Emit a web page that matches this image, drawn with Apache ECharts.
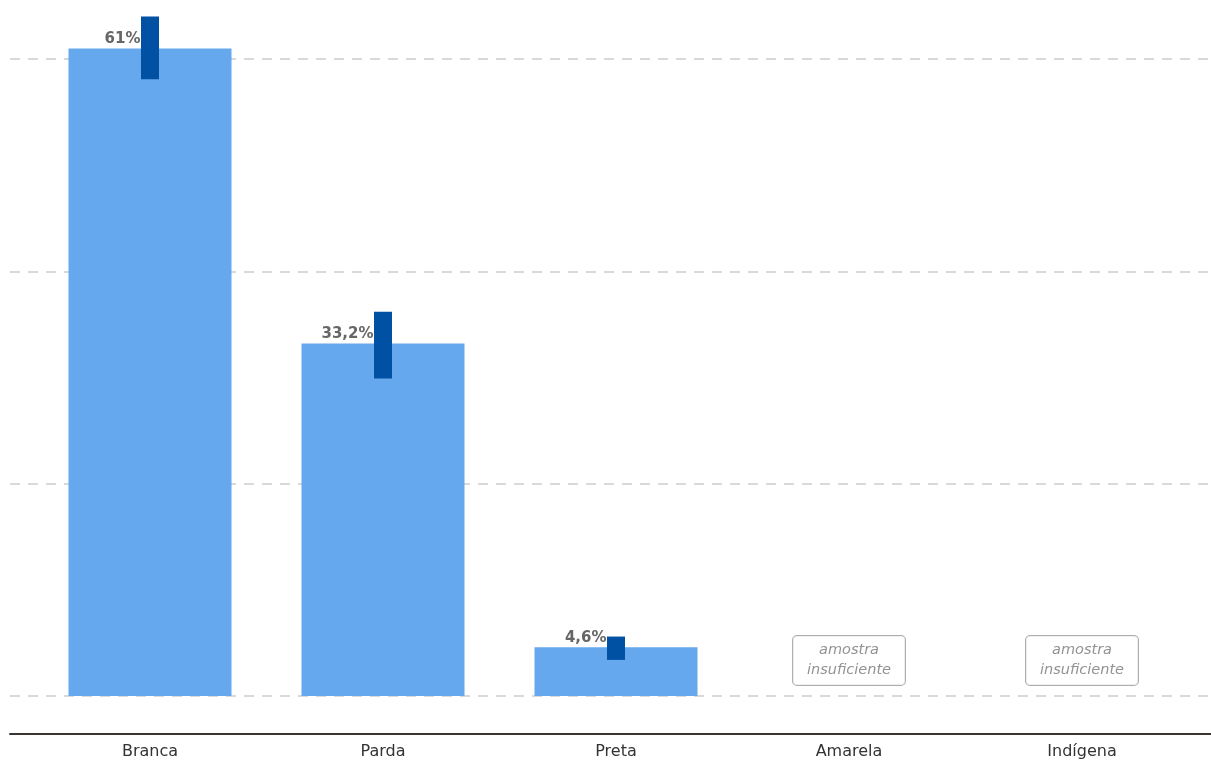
<!DOCTYPE html>
<html>
<head>
<meta charset="utf-8">
<script src="https://cdn.jsdelivr.net/npm/echarts@6/dist/echarts.min.js"></script>
<style>html,body{margin:0;padding:0;background:#fff;}#c{width:1211px;height:763px;}</style>
</head>
<body>
<div id="c"></div>
<script>
const categories = ['Branca', 'Parda', 'Preta', 'Amarela', 'Indígena'];
const values = [61, 33.2, 4.6, null, null];
const errLow = [58.1, 29.9, 3.4, null, null];
const errHigh = [64.0, 36.2, 5.6, null, null];
const insufficient = [null, null, null, 3.35, 3.35];
const yTicks = [0, 20, 40, 60];

const FONT = 'DejaVu Sans';
const chart = echarts.init(document.getElementById('c'), null, {renderer: 'canvas'});
const fmt = v => (String(v).replace('.', ',')) + '%';

chart.setOption({
  animation: false,
  grid: [
    {left: 10, right: 0, top: 59, bottom: 67},
    {left: 33.5, right: 12.5, top: 59, bottom: 67}
  ],
  xAxis: [
    {gridIndex: 0, type: 'category', data: ['x'], offset: 38, position: 'bottom',
     axisLine: {show: true, onZero: false, lineStyle: {color: '#3b3530', width: 2}},
     axisTick: {show: false}, axisLabel: {show: false}, splitLine: {show: false}},
    {gridIndex: 1, type: 'category', data: categories, offset: 38, position: 'bottom',
     axisLine: {show: false, onZero: false}, axisTick: {show: false},
     axisLabel: {color: '#333', fontSize: 16, fontFamily: FONT, margin: 10}}
  ],
  yAxis: [
    {gridIndex: 0, type: 'value', min: yTicks[0], max: yTicks[yTicks.length - 1], interval: 20,
     axisLine: {show: false}, axisTick: {show: false}, axisLabel: {show: false},
     splitLine: {show: true, lineStyle: {color: '#d9d9d9', width: 2, type: [10, 8]}}},
    {gridIndex: 1, type: 'value', min: yTicks[0], max: yTicks[yTicks.length - 1], interval: 20,
     axisLine: {show: false}, axisTick: {show: false}, axisLabel: {show: false},
     splitLine: {show: false}}
  ],
  series: [
    {type: 'bar', xAxisIndex: 1, yAxisIndex: 1, data: values, barWidth: 163, clip: false, z: 2,
     itemStyle: {color: '#66a8ed'},
     label: {show: true, position: [72, -2], align: 'right', verticalAlign: 'bottom',
       formatter: p => fmt(p.value), color: '#666', fontWeight: 'bold', fontSize: 15, fontFamily: FONT}
    },
    {type: 'custom', xAxisIndex: 1, yAxisIndex: 1, clip: false, z: 5,
     data: categories.map((c, i) => [i, errLow[i], errHigh[i]]).filter(d => d[1] != null),
     renderItem: function (params, api) {
       const lo = api.coord([api.value(0), api.value(1)]);
       const hi = api.coord([api.value(0), api.value(2)]);
       return {type: 'rect', shape: {x: lo[0] - 9, y: hi[1], width: 18, height: lo[1] - hi[1]},
               style: {fill: '#0050a4'}};
     }
    },
    {type: 'scatter', xAxisIndex: 1, yAxisIndex: 1, symbolSize: 0,
     data: insufficient.map((v, i) => v == null ? null : [i, v]).filter(d => d),
     label: {show: true, position: 'inside', formatter: 'amostra\ninsuficiente',
       fontStyle: 'italic', fontSize: 14.5, fontFamily: FONT, color: '#777', lineHeight: 20,
       align: 'center', width: 96,
       borderColor: '#9a9a9a', borderWidth: 1, borderRadius: 4, padding: [9, 8, 0, 8], backgroundColor: '#fff'}
    }
  ]
});
</script>
</body>
</html>
